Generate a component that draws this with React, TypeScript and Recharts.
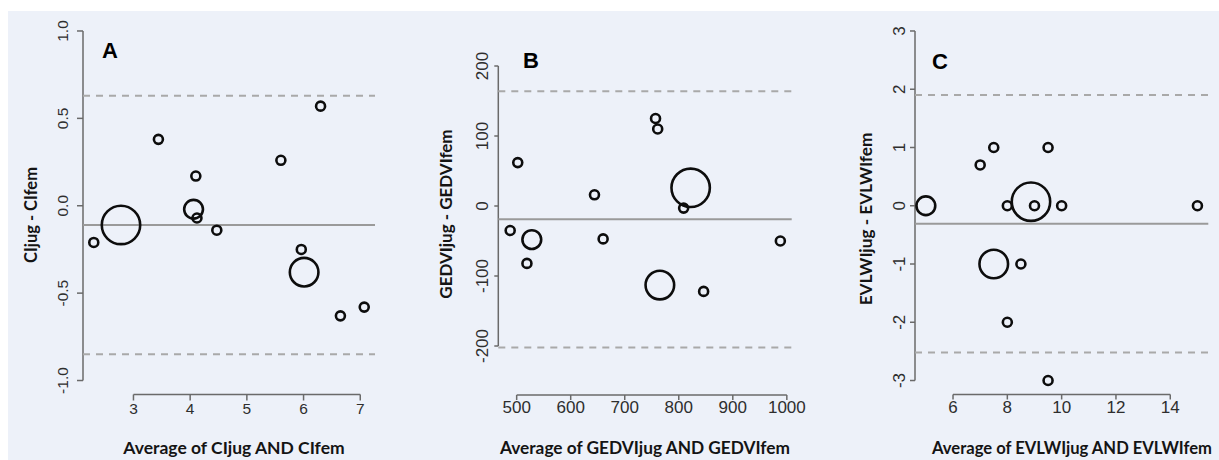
import React from "react";
import { ScatterChart, Scatter, XAxis, YAxis, ReferenceLine } from "recharts";

// ---------- data ----------
const avgA = [2.30, 2.78, 3.44, 4.10, 4.06, 4.12, 4.47, 5.60, 6.30, 5.96, 6.01, 6.65, 7.07];
const diffA = [-0.21, -0.11, 0.38, 0.17, -0.02, -0.07, -0.14, 0.26, 0.57, -0.25, -0.38, -0.63, -0.58];
const countA = [1, 4, 1, 1, 2, 1, 1, 1, 1, 1, 3, 1, 1];
const limitsA = { mean: -0.11, upper: 0.63, lower: -0.85 };
const xTicksA = [3, 4, 5, 6, 7];
const yTicksA = [-1, -0.5, 0, 0.5, 1];

const avgB = [488, 502, 528, 519, 644, 660, 757, 761, 822, 809, 765, 846, 988];
const diffB = [-35, 62, -48, -82, 16, -47, 125, 110, 26, -3, -113, -122, -50];
const countB = [1, 1, 2, 1, 1, 1, 1, 1, 4, 1, 3, 1, 1];
const limitsB = { mean: -19, upper: 164, lower: -202 };
const xTicksB = [500, 600, 700, 800, 900, 1000];
const yTicksB = [-200, -100, 0, 100, 200];

const avgC = [5, 7, 7.5, 9.5, 8, 8.87, 9, 10, 15, 7.5, 8.5, 8, 9.5];
const diffC = [0, 0.7, 1, 1, 0, 0.07, 0, 0, 0, -1, -1, -2, -3];
const countC = [2, 1, 1, 1, 1, 4, 1, 1, 1, 3, 1, 1, 1];
const limitsC = { mean: -0.31, upper: 1.9, lower: -2.52 };
const xTicksC = [6, 8, 10, 12, 14];
const yTicksC = [-3, -2, -1, 0, 1, 2, 3];

// ---------- styles ----------
const BG = "#edf1f9";
const AXIS = "#6a6a6a";
const TICK_TEXT = "#2e2e2e";
const TICK_FONT = "'Liberation Sans', Arial, sans-serif";
const TITLE_FONT = "Lato, 'Open Sans', sans-serif";

type PanelCfg = {
  left: number;
  width: number;
  margin: { top: number; right: number; bottom: number; left: number };
  xAxisHeight: number;
  xDomain: [number, number];
  yDomain: [number, number];
  xTicks: number[];
  yTicks: number[];
  yFmt: (v: number) => string;
  xs: number[];
  ys: number[];
  ns: number[];
  limits: { mean: number; upper: number; lower: number };
  fontSize: number;
  yTickSize: number;
  yTickMargin: number;
  xTickSize: number;
  xTickMargin: number;
};

const H = 460;

function Panel(cfg: PanelCfg) {
  const data = cfg.xs.map((x, i) => ({ x, y: cfg.ys[i], n: cfg.ns[i] }));
  const [x0, x1] = cfg.xDomain;
  const [y0] = cfg.yDomain;
  const yT0 = cfg.yTicks[0];
  const yT1 = cfg.yTicks[cfg.yTicks.length - 1];
  const xT0 = cfg.xTicks[0];
  const xT1 = cfg.xTicks[cfg.xTicks.length - 1];
  return (
    <div style={{ position: "absolute", left: cfg.left, top: 0 }}>
      <ScatterChart width={cfg.width} height={H} margin={cfg.margin}>
        <XAxis
          type="number"
          dataKey="x"
          domain={cfg.xDomain}
          ticks={cfg.xTicks}
          allowDataOverflow
          axisLine={false}
          tickLine={{ stroke: AXIS, strokeWidth: 1.5 }}
          tickSize={cfg.xTickSize}
          tickMargin={cfg.xTickMargin}
          height={cfg.xAxisHeight}
          interval={0}
          tick={(p: any) => (
            <text
              x={p.x}
              y={p.y}
              dy="0.71em"
              textAnchor="middle"
              fontSize={cfg.fontSize}
              fontFamily={TICK_FONT}
              fill={TICK_TEXT}
            >
              {String(p.payload.value)}
            </text>
          )}
        />
        <YAxis
          type="number"
          dataKey="y"
          domain={cfg.yDomain}
          ticks={cfg.yTicks}
          allowDataOverflow
          axisLine={false}
          tickLine={{ stroke: AXIS, strokeWidth: 1.5 }}
          tickSize={cfg.yTickSize}
          tickMargin={cfg.yTickMargin}
          width={50}
          interval={0}
          tick={(p: any) => (
            <text
              transform={`translate(${p.x},${p.y}) rotate(-90)`}
              x={0}
              y={0}
              textAnchor="middle"
              fontSize={cfg.fontSize}
              fontFamily={TICK_FONT}
              fill={TICK_TEXT}
            >
              {cfg.yFmt(p.payload.value)}
            </text>
          )}
        />
        {/* axis lines spanning only the tick range */}
        <ReferenceLine
          segment={[{ x: xT0, y: y0 }, { x: xT1, y: y0 }]}
          stroke={AXIS}
          strokeWidth={1.5}
          ifOverflow="visible"
        />
        <ReferenceLine
          segment={[{ x: x0, y: yT0 }, { x: x0, y: yT1 }]}
          stroke={AXIS}
          strokeWidth={1.5}
          ifOverflow="visible"
        />
        <ReferenceLine
          segment={[{ x: x0, y: cfg.limits.upper }, { x: x1, y: cfg.limits.upper }]}
          stroke="#a9a9a9"
          strokeWidth={2}
          strokeDasharray="7 6"
          ifOverflow="visible"
        />
        <ReferenceLine
          segment={[{ x: x0, y: cfg.limits.lower }, { x: x1, y: cfg.limits.lower }]}
          stroke="#a9a9a9"
          strokeWidth={2}
          strokeDasharray="7 6"
          ifOverflow="visible"
        />
        <ReferenceLine
          segment={[{ x: x0, y: cfg.limits.mean }, { x: x1, y: cfg.limits.mean }]}
          stroke="#9a9a9a"
          strokeWidth={2}
          ifOverflow="visible"
        />
        <Scatter
          data={data}
          isAnimationActive={false}
          shape={(p: any) => (
            <circle
              cx={p.cx}
              cy={p.cy}
              r={4.9 * p.payload.n - 0.4}
              fill="none"
              stroke="#0d0d0d"
              strokeWidth={2.6}
            />
          )}
        />
      </ScatterChart>
    </div>
  );
}

const fmt1 = (v: number) => v.toFixed(1);
const fmt0 = (v: number) => String(v);

export default function App() {
  return (
    <div
      style={{
        position: "absolute",
        left: 0,
        top: 0,
        width: 1219,
        height: H,
        background: "#ffffff",
        overflow: "hidden",
      }}
    >
      <div style={{ position: "absolute", left: 8, top: 11, width: 1211, height: 449, background: BG }} />
      <Panel
        left={0}
        width={410}
        margin={{ top: 17, right: 35, bottom: 0, left: 33 }}
        xAxisHeight={65.5}
        xDomain={[2.11, 7.26]}
        yDomain={[-1.08, 1.08]}
        xTicks={xTicksA}
        yTicks={yTicksA}
        yFmt={fmt1}
        xs={avgA}
        ys={diffA}
        ns={countA}
        limits={limitsA}
        fontSize={15.5}
        yTickSize={6}
        yTickMargin={9}
        xTickSize={6}
        xTickMargin={2}
      />
      <Panel
        left={410}
        width={400}
        margin={{ top: 17, right: 18.3, bottom: 0, left: 38.3 }}
        xAxisHeight={65}
        xDomain={[466, 1009]}
        yDomain={[-270, 270]}
        xTicks={xTicksB}
        yTicks={yTicksB}
        yFmt={fmt0}
        xs={avgB}
        ys={diffB}
        ns={countB}
        limits={limitsB}
        fontSize={17}
        yTickSize={4}
        yTickMargin={6.5}
        xTickSize={5}
        xTickMargin={1}
      />
      <Panel
        left={810}
        width={409}
        margin={{ top: 17, right: 10.7, bottom: 0, left: 55 }}
        xAxisHeight={65.5}
        xDomain={[4.6, 15.4]}
        yDomain={[-3.24, 3.24]}
        xTicks={xTicksC}
        yTicks={yTicksC}
        yFmt={fmt0}
        xs={avgC}
        ys={diffC}
        ns={countC}
        limits={limitsC}
        fontSize={17}
        yTickSize={5}
        yTickMargin={5}
        xTickSize={5}
        xTickMargin={1}
      />
      <svg
        width={1219}
        height={H}
        style={{ position: "absolute", left: 0, top: 0, pointerEvents: "none" }}
      >
        <g fontFamily="'Liberation Sans', Arial, sans-serif" fontWeight="bold" fontSize={22} fill="#000">
          <text x={102} y={58}>A</text>
          <text x={523} y={68}>B</text>
          <text x={932} y={69}>C</text>
        </g>
        <g fontFamily={TITLE_FONT} fontWeight="bold" fill="#141414">
          <text x={234} y={454} textAnchor="middle" fontSize={17.5}>Average of CIjug AND CIfem</text>
          <text x={645} y={454} textAnchor="middle" fontSize={17.3}>Average of GEDVIjug AND GEDVIfem</text>
          <text x={1072} y={454} textAnchor="middle" fontSize={16.6}>Average of EVLWIjug AND EVLWIfem</text>
          <text transform="translate(37,215) rotate(-90)" textAnchor="middle" fontSize={16.5}>CIjug - CIfem</text>
          <text transform="translate(452,214) rotate(-90)" textAnchor="middle" fontSize={17}>GEDVIjug - GEDVIfem</text>
          <text transform="translate(872,219) rotate(-90)" textAnchor="middle" fontSize={17.2}>EVLWIjug - EVLWIfem</text>
        </g>
      </svg>
    </div>
  );
}
